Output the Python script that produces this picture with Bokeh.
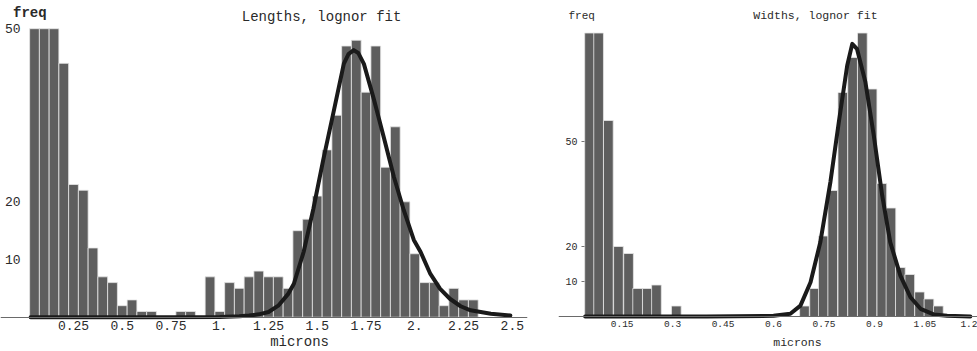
from bokeh.plotting import figure
from bokeh.layouts import row
from bokeh.models import Range1d, FixedTicker, Label, ColumnDataSource
from bokeh.embed import file_html
from bokeh.resources import INLINE

# ---------------- data: lengths ----------------
len_bins = [0.05, 0.10, 0.15, 0.20, 0.25, 0.30, 0.35, 0.40, 0.45, 0.50,
            0.55, 0.60, 0.65, 0.70, 0.75, 0.80, 0.85, 0.90, 0.95, 1.00,
            1.05, 1.10, 1.15, 1.20, 1.25, 1.30, 1.35, 1.40, 1.45, 1.50,
            1.55, 1.60, 1.65, 1.70, 1.75, 1.80, 1.85, 1.90, 1.95, 2.00,
            2.05, 2.10, 2.15, 2.20, 2.25, 2.30]
len_counts = [50, 50, 50, 44, 23, 22, 12, 7, 6, 2,
              3, 1, 1, 0, 0, 1, 1, 0, 7, 1,
              6, 5, 7, 8, 7, 7, 5, 15, 17, 21,
              29, 35, 47, 48, 39, 47, 26, 33, 20, 11,
              6, 6, 2, 5, 3, 3]
len_fit_x = [0.03, 0.6, 1.0, 1.1, 1.15, 1.2, 1.25, 1.3, 1.35, 1.38, 1.43, 1.48,
             1.53, 1.585, 1.636, 1.66, 1.687, 1.71, 1.739, 1.79, 1.841, 1.893,
             1.944, 1.995, 2.03, 2.08, 2.13, 2.18, 2.235, 2.286, 2.39, 2.49]
len_fit_y = [0, 0, 0.05, 0.15, 0.3, 0.5, 0.9, 2.0, 4.0, 5.8, 11.3, 18.8,
             27.2, 35.8, 43.9, 45.6, 46.3, 45.8, 43.9, 37.8, 31.2, 24.3,
             18.5, 13.4, 11.3, 7.5, 4.9, 3.2, 1.9, 1.2, 0.6, 0.3]
len_ticks = [0.25, 0.5, 0.75, 1.0, 1.25, 1.5, 1.75, 2.0, 2.25, 2.5]
len_tick_labels = ["0.25", "0.5", "0.75", "1.", "1.25", "1.5", "1.75", "2.", "2.25", "2.5"]
len_freq_ticks = [10, 20, 50]

# ---------------- data: widths ----------------
wid_bins = [0.053, 0.080, 0.109, 0.139, 0.169, 0.196, 0.225, 0.252, 0.311,
            0.692, 0.722, 0.748, 0.776, 0.806, 0.835, 0.864, 0.893, 0.922,
            0.949, 0.977, 1.005, 1.034, 1.062, 1.090]
wid_counts = [81, 81, 56, 20, 18, 8, 8, 9, 3,
              3, 8, 23, 36, 64, 74, 81, 65, 38,
              31, 14, 12, 7, 5, 3]
wid_fit_x = [0.04, 0.4, 0.6, 0.65, 0.68, 0.71, 0.739, 0.769, 0.794, 0.819, 0.834,
             0.848, 0.873, 0.898, 0.923, 0.947, 0.977, 1.007, 1.037, 1.076, 1.116, 1.185]
wid_fit_y = [0, 0, 0.2, 0.8, 3.1, 9.8, 21.2, 38.4, 55.5, 71.7, 77.9,
             76.5, 67.0, 51.7, 34.6, 21.2, 11.7, 5.5, 2.2, 0.6, 0.2, 0]
wid_ticks = [0.15, 0.3, 0.45, 0.6, 0.75, 0.9, 1.05, 1.2]
wid_tick_labels = ["0.15", "0.3", "0.45", "0.6", "0.75", "0.9", "1.05", "1.2"]
wid_freq_ticks = [10, 20, 50]

FONT = "Liberation Mono"
TXT = "#2a2a2a"
BAR = "#5e5e5e"
EDGE = "#e6e6e6"
CURVE = "#1a1a1a"


def panel(width, left_b, right_b, xr, yr, bins, counts, bw, fx, fy,
          ticks, tick_labels, fticks, yloc, tick_size, ylab_size, ytick_out, ystand):
    p = figure(width=width, height=351, x_range=Range1d(*xr), y_range=Range1d(*yr),
               output_backend="svg", toolbar_location=None,
               min_border_left=left_b, min_border_right=right_b,
               min_border_top=0, min_border_bottom=0,
               outline_line_color=None, background_fill_color="white",
               border_fill_color="white")
    p.grid.visible = False
    b = [x for x, c in zip(bins, counts) if c > 0]
    c = [c for c in counts if c > 0]
    src = ColumnDataSource(dict(x=b, top=c))
    p.vbar(x="x", top="top", width=bw, bottom=0, source=src,
           fill_color=BAR, line_color=EDGE, line_width=0.8)
    p.line(fx, fy, line_width=4, line_color=CURVE, line_join="round", line_cap="round")

    xa = p.xaxis[0]
    xa.fixed_location = 0
    xa.ticker = FixedTicker(ticks=ticks)
    xa.major_label_overrides = {t: l for t, l in zip(ticks, tick_labels)}
    xa.axis_line_color = "#6a6a6a"
    xa.axis_line_width = 1
    xa.major_tick_in = 0
    xa.major_tick_out = 0
    xa.minor_tick_line_color = None
    xa.major_label_text_font = FONT
    xa.major_label_text_font_size = tick_size
    xa.major_label_text_color = TXT
    xa.major_label_standoff = 4

    ya = p.yaxis[0]
    ya.fixed_location = yloc
    ya.ticker = FixedTicker(ticks=fticks)
    ya.axis_line_color = None
    ya.major_tick_in = 0
    ya.major_tick_out = ytick_out
    ya.major_tick_line_color = "#777777"
    ya.minor_tick_line_color = None
    ya.major_label_text_font = FONT
    ya.major_label_text_font_size = ylab_size
    ya.major_label_text_color = TXT
    ya.major_label_standoff = ystand
    return p


p1 = panel(540, 0, 13, (-0.1244, 2.578), (-5.94, 54.89), len_bins, len_counts, 0.05,
           len_fit_x, len_fit_y, len_ticks, len_tick_labels, len_freq_ticks,
           0.014, "13px", "13px", 0, 7)
p1.add_layout(Label(x=-0.06, y=52.8, text="freq", text_font=FONT, text_font_size="14px",
                    text_color=TXT, text_align="left", text_baseline="middle", text_font_style="bold"))
p1.add_layout(Label(x=1.522, y=52.1, text="Lengths, lognor fit", text_font=FONT,
                    text_font_size="14px", text_color=TXT, text_align="center",
                    text_baseline="middle"))
p1.add_layout(Label(x=1.409, y=-4.21, text="microns", text_font=FONT, text_font_size="14px",
                    text_color=TXT, text_align="center", text_baseline="middle"))

p2 = panel(437, 18, 0, (-0.0392, 1.2063), (-10.0, 90.29), wid_bins, wid_counts, 0.0288,
           wid_fit_x, wid_fit_y, wid_ticks, wid_tick_labels, wid_freq_ticks,
           0.038, "9.5px", "10px", 3, 4)
p2.add_layout(Label(x=-0.0095, y=86.0, text="freq", text_font=FONT, text_font_size="11px",
                    text_color=TXT, text_align="left", text_baseline="middle"))
p2.add_layout(Label(x=0.7245, y=86.0, text="Widths, lognor fit", text_font=FONT,
                    text_font_size="11.5px", text_color=TXT, text_align="center",
                    text_baseline="middle"))
p2.add_layout(Label(x=0.671, y=-7.43, text="microns", text_font=FONT, text_font_size="11.5px",
                    text_color=TXT, text_align="center", text_baseline="middle"))

layout = row(p1, p2)
open("out.html", "w").write(file_html(layout, INLINE))
